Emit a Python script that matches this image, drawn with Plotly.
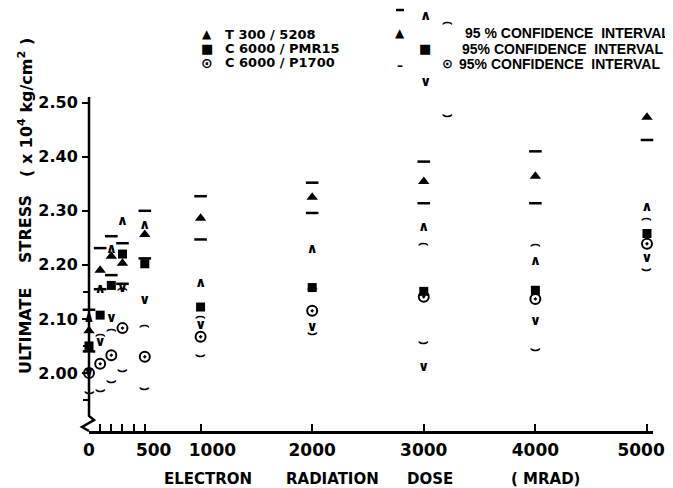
import plotly.graph_objects as go

# ---------------- data ----------------
doses = [0, 100, 200, 300, 500, 1000, 2000, 3000, 4000, 5000]

t300_mean  = [2.078, 2.190, 2.216, 2.203, 2.256, 2.286, 2.325, 2.354, 2.364, 2.473]
t300_upper = [2.117, 2.231, 2.253, 2.240, 2.300, 2.327, 2.352, 2.391, 2.410, 2.517]
t300_lower = [2.040, 2.155, 2.181, 2.165, 2.212, 2.247, 2.296, 2.314, 2.314, 2.431]

pmr_mean  = [2.050, 2.107, 2.162, 2.220, 2.202, 2.122, 2.158, 2.151, 2.153, 2.258]
pmr_upper = [2.100, 2.155, 2.229, 2.281, 2.273, 2.166, 2.228, 2.269, 2.207, 2.306]
pmr_lower = [2.000, 2.057, 2.101, 2.157, 2.135, 2.087, 2.085, 2.011, 2.095, 2.212]

p17_mean  = [2.000, 2.017, 2.033, 2.083, 2.030, 2.067, 2.115, 2.141, 2.137, 2.239]
p17_upper = [2.040, 2.070, 2.079, 2.155, 2.087, 2.103, 2.158, 2.239, 2.236, 2.285]
p17_lower = [1.963, 1.967, 1.983, 2.004, 1.970, 2.031, 2.072, 2.055, 2.042, 2.191]

x_tickvals = [0, 500, 1000, 2000, 3000, 4000, 5000]
x_ticktext = ["0", "\u00a0\u00a0\u00a0500", "\u00a0\u00a0\u00a0\u00a01000", "2000", "3000", "4000",
              "5000\u00a0\u00a0"]
x_minor = [100, 200, 300, 400]
y_tickvals = [2.0, 2.1, 2.2, 2.3, 2.4, 2.5]
y_ticktext = ["2.00", "2.10", "2.20", "2.30", "2.40", "2.50"]

series_names = ["T 300 / 5208", "C 6000 / PMR15", "C 6000 / P1700"]
ci_text = ["95 % CONFIDENCE  INTERVAL", "95% CONFIDENCE  INTERVAL", "95% CONFIDENCE  INTERVAL"]

# ---------------- layout geometry ----------------
# The page puts the figure 8 px from the top-left corner (body margin),
# so window-pixel targets are converted to figure coordinates with OFF.
OFF = 8
W, H = 673 - OFF, 488 - OFF
SX0, SX1, SY0, SY1 = 89, 653, 97, 431      # plot area in window pixels
L = SX0 - OFF
R = W - (SX1 - OFF)
T = SY0 - OFF
B = H - (SY1 - OFF)
def px(x):
    return (x - OFF - L) / (W - L - R)
def py(y):
    return (H - B - (y - OFF)) / (H - T - B)

FONT = "DejaVu Sans"
FONT2 = "Liberation Sans"
BLK = "black"

fig = go.Figure()

def text_marks(xs, ys, glyph, size=12):
    fig.add_trace(go.Scatter(x=xs, y=ys, mode="text", text=[glyph] * len(xs),
                             textposition="middle center",
                             textfont=dict(family=FONT, size=size, color=BLK, weight="bold"),
                             cliponaxis=False, showlegend=False, hoverinfo="skip"))

dash_marker = dict(symbol="line-ew", size=9, line=dict(width=2.5, color=BLK))

# T300/5208 : filled triangles, dash CI
fig.add_trace(go.Scatter(x=doses, y=t300_upper, mode="markers", marker=dash_marker,
                         cliponaxis=False, showlegend=False))
fig.add_trace(go.Scatter(x=doses, y=t300_lower, mode="markers", marker=dash_marker,
                         cliponaxis=False, showlegend=False))
fig.add_trace(go.Scatter(x=doses, y=t300_mean, mode="markers", name=series_names[0],
                         marker=dict(symbol="triangle-up", size=10, color=BLK),
                         cliponaxis=False, showlegend=False))

# C6000/PMR15 : filled squares, ^ v CI
text_marks(doses, pmr_upper, "\u2227", 14)
text_marks(doses, pmr_lower, "\u2228", 14)
fig.add_trace(go.Scatter(x=doses, y=pmr_mean, mode="markers", name=series_names[1],
                         marker=dict(symbol="square", size=9, color=BLK),
                         cliponaxis=False, showlegend=False))

# C6000/P1700 : dotted circles, arc CI
text_marks(doses, p17_upper, "\u2322", 16)
text_marks(doses, p17_lower, "\u2323", 16)
fig.add_trace(go.Scatter(x=doses, y=p17_mean, mode="markers", name=series_names[2],
                         marker=dict(symbol="circle-open-dot", size=10, color=BLK,
                                     line=dict(width=2, color=BLK)),
                         cliponaxis=False, showlegend=False))

# ---------------- annotations ----------------
ann = []
def add_text(x, y, text, size=12, xanchor="center", angle=0, family=FONT):
    ann.append(dict(x=px(x), y=py(y), xref="paper", yref="paper", text=text,
                    showarrow=False, xanchor=xanchor, yanchor="middle", textangle=angle,
                    font=dict(family=family, size=size, color=BLK, weight="bold")))

# material legend
add_text(207, 34, "\u25B2", 12)
add_text(207, 49, "\u25A0", 13)
add_text(207, 63, "\u2299", 14)
add_text(223, 34, series_names[0], 13, "left")
add_text(223, 49, series_names[1], 13, "left")
add_text(223, 63, series_names[2], 13, "left")

# confidence-interval legend
add_text(425, 15, "\u2227", 14)
add_text(400, 33, "\u25B2", 12)
add_text(400, 66, "\u2013", 12)
add_text(425, 49, "\u25A0", 13)
add_text(425, 81, "\u2228", 14)
add_text(448, 21, "\u2322", 16)
add_text(447, 64, "\u2299", 13)
add_text(448, 114, "\u2323", 16)
add_text(463, 33, ci_text[0], 14, "left", family=FONT2)
add_text(460, 49, ci_text[1], 14, "left", family=FONT2)
add_text(457, 64, ci_text[2], 14, "left", family=FONT2)

# axis titles
add_text(25, 331, "ULTIMATE", 16, angle=-90)
add_text(25, 229, "STRESS", 16, angle=-90)
add_text(25, 108, "( x 10<sup>4</sup> kg/cm<sup>2</sup> )", 16, angle=-90)
add_text(208, 479, "ELECTRON", 15)
add_text(332, 479, "RADIATION", 15)
add_text(430, 479, "DOSE", 15)
add_text(545, 479, "( MRAD)", 15)

shapes = [
    # y-axis line with break
    dict(type="path", xref="paper", yref="paper",
         path=f"M {px(89)} {py(97)} L {px(89)} {py(416)} L {px(94)} {py(420)} "
              f"L {px(82)} {py(427)} L {px(89)} {py(431)}",
         line=dict(color=BLK, width=2.5)),
    # upper dash of the triangle key in the confidence legend
    dict(type="line", xref="paper", yref="paper",
         x0=px(396), x1=px(404), y0=py(10), y1=py(10),
         line=dict(color=BLK, width=2.5)),
]

fig.update_layout(
    width=W, height=H,
    margin=dict(l=L, r=R, t=T, b=B, pad=0, autoexpand=False),
    paper_bgcolor="white", plot_bgcolor="white",
    showlegend=False,
    annotations=ann, shapes=shapes,
    xaxis=dict(range=[0, 5054], showgrid=False, zeroline=False, automargin=False,
               showline=True, linecolor=BLK, linewidth=2.5,
               tickmode="array", tickvals=x_tickvals, ticktext=x_ticktext,
               tickangle=0, ticklabeloverflow="allow",
               ticks="inside", ticklen=7, tickwidth=2, tickcolor=BLK,
               minor=dict(tickmode="array", tickvals=x_minor, ticks="inside",
                          ticklen=7, tickwidth=2, tickcolor=BLK),
               ticklabelstandoff=2,
               tickfont=dict(family=FONT, size=17, color=BLK, weight="bold")),
    yaxis=dict(range=[1.8927, 2.5105], showgrid=False, zeroline=False, automargin=False,
               showline=False,
               tickmode="array", tickvals=y_tickvals, ticktext=y_ticktext,
               ticks="outside", ticklen=6, tickwidth=2, tickcolor=BLK,
               minor=dict(tickmode="array", tickvals=[2.05, 2.15, 1.95], ticks="outside",
                          ticklen=5, tickwidth=2, tickcolor=BLK),
               ticklabelstandoff=1,
               tickfont=dict(family=FONT, size=16, color=BLK, weight="bold")),
)

fig.write_html("out.html")
